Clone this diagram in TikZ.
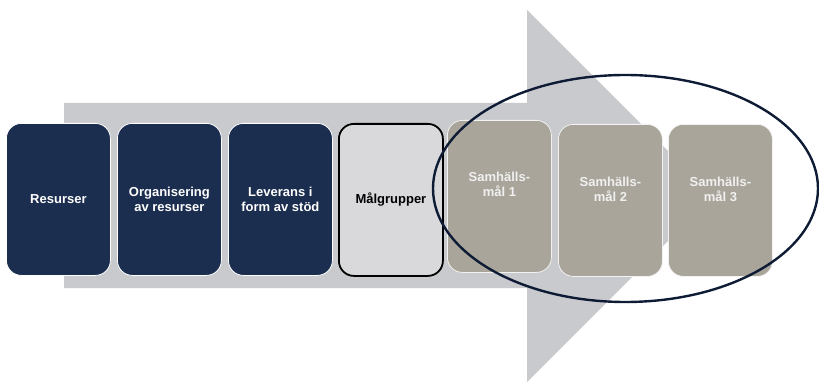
\documentclass[tikz,border=0pt]{standalone}
\usepackage{fontspec}
\setmainfont{Liberation Sans}
\usetikzlibrary{shapes.geometric}
\definecolor{navyfill}{HTML}{1C2E4F}
\definecolor{taupe}{HTML}{A9A59B}
\definecolor{arrowgray}{HTML}{C9CACE}
\definecolor{lightbox}{HTML}{D9D9DB}
\definecolor{ringcol}{HTML}{0E1B35}
\begin{document}
\begin{tikzpicture}[x=1pt,y=-1pt,
  box/.style={rectangle, rounded corners=15pt, minimum width=104pt, minimum height=152pt,
    anchor=north west, inner sep=2pt, align=center,
    font=\fontsize{13}{15}\selectfont\bfseries},
  navybox/.style={box, fill=navyfill, draw=white, line width=0.8pt, text=white},
  targetbox/.style={box, fill=lightbox, draw=black, line width=1.8pt, text=black},
  goalbox/.style={box, fill=taupe, draw=white!85!taupe, line width=0.8pt},
  goaltext/.style={align=center, text=white!94!black, inner sep=0pt,
    font=\fontsize{13}{15}\selectfont\bfseries},
  ring/.style={ellipse, draw=ringcol, line width=2.4pt, minimum width=385pt, minimum height=227pt, inner sep=0pt}
]
\useasboundingbox (0,0) rectangle (819,382);
% the big flow arrow in the background
\fill[arrowgray] (64,103) -- (527,103) -- (527,10) -- (713,196) -- (527,382) -- (527,288) -- (64,288) -- cycle;

% chain of stages
\node[navybox] (res) at (6,123) {Resurser};
\node[navybox] (org) at (117,123) {Organisering\\av resurser};
\node[navybox] (lev) at (228,123) {Leverans i\\form av stöd};
\node[targetbox] (mal) at (338,123) {Målgrupper};
\node[goalbox] (s1) at (447,120) {};
\node[goalbox] (s2) at (558,124) {};
\node[goalbox] (s3) at (668,124) {};
\node[goaltext] (t1) at ([yshift=-64pt]s1.north) {Samhälls-\\mål 1};
\node[goaltext] (t2) at ([yshift=-65pt]s2.north) {Samhälls-\\mål 2};
\node[goaltext] (t3) at ([yshift=-65pt]s3.north) {Samhälls-\\mål 3};

% ring around the societal goals
\node[ring] (goals) at (625.5,188.5) {};
\end{tikzpicture}
\end{document}
